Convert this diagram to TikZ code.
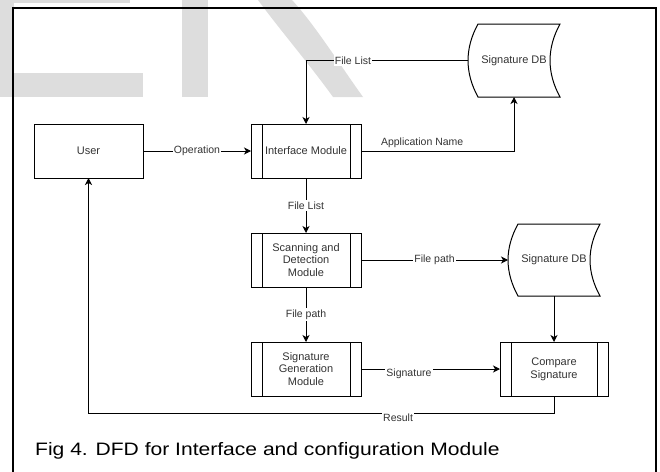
\documentclass[tikz,border=0pt]{standalone}
\usepackage{fontspec}
\setmainfont{Liberation Sans}
\usepackage{graphicx}
\usetikzlibrary{arrows.meta,calc}
\definecolor{wm}{RGB}{221,221,221}
\definecolor{txt}{RGB}{51,51,51}
\begin{document}
\begin{tikzpicture}[x=1pt,y=-1pt,
  box/.style={draw=black, line width=1pt, minimum width=110pt, minimum height=54pt,
    inner sep=0pt, outer sep=0pt, align=center, text=txt,
    font=\fontsize{11}{12.6}\selectfont},
  dbnode/.style={minimum width=92pt, minimum height=73pt, inner sep=0pt, outer sep=0pt,
    align=center, text=txt, font=\fontsize{11}{12.6}\selectfont},
  plain/.style={draw=black, line width=1pt},
  conn/.style={draw=black, line width=1pt, -{Stealth[length=7pt,width=7pt,inset=2pt]}},
  elabel/.style={fill=white, inner sep=1.2pt, text=txt, font=\fontsize{10.5}{12}\selectfont},
  tlabel/.style={inner sep=1pt, text=txt, font=\fontsize{10.5}{12}\selectfont}
]
\clip (0,0) rectangle (660,471);
% watermark
\fill[wm] (0,0) rectangle (14,97);
\fill[wm] (14,0) rectangle (130,3);
\fill[wm] (14,73) rectangle (143,97);
\fill[wm] (182,0) rectangle (208,97);
\fill[wm] (258,0) .. controls (280,30) and (310,65) .. (333,97) -- (363,97)
  .. controls (340,65) and (315,25) .. (292,0) -- cycle;
% frame
\draw[line width=1.8pt, black] (13,480) -- (13,8) -- (656,8) -- (656,480);

% nodes
\node[box, minimum width=109pt] (user) at (88.5,151) {User};
\node[box] (iface) at (306,151) {Interface Module};
\node[box] (scan) at (306,260) {Scanning and\\Detection\\Module};
\node[box] (sgen) at (306,369) {Signature\\Generation\\Module};
\node[box, minimum width=108pt] (cmp) at (554,369) {Compare\\Signature};
\node[dbnode] (db1) at (514,60.5) {Signature DB};
\node[dbnode, minimum height=72pt] (db2) at (554,260) {Signature DB};

\foreach \n in {iface,scan,sgen,cmp} {
  \draw[plain] ([xshift=11pt]\n.north west) -- ([xshift=11pt]\n.south west);
  \draw[plain] ([xshift=-11pt]\n.north east) -- ([xshift=-11pt]\n.south east);
}
\foreach \n in {db1,db2} {
  \draw[plain] ($(\n.north west)+(10,0)$) -- (\n.north east)
    .. controls ($(\n.north east)+(-13.3,24.3)$) and ($(\n.south east)+(-13.3,-24.3)$) .. (\n.south east)
    -- ($(\n.south west)+(10,0)$)
    .. controls ($(\n.south west)+(-3.3,-24.3)$) and ($(\n.north west)+(-3.3,24.3)$) .. cycle;
}

% connectors
\draw[conn] (user) -- node[elabel]{Operation} (iface);
\draw[conn] (db1.west) -| node[elabel, pos=0.355]{File List} (iface.north);
\draw[conn] (iface.east) -| node[tlabel, pos=0.2, yshift=8pt]{Application Name} (db1.south);
\draw[conn] (iface) -- node[elabel]{File List} (scan);
\draw[conn] (scan) -- node[elabel]{File path} (db2);
\draw[conn] (scan) -- node[elabel]{File path} (sgen);
\draw[conn] (sgen) -- node[elabel, pos=0.345, yshift=-5pt]{Signature} (cmp);
\draw[conn] (db2) -- (cmp);
\draw[conn] (cmp.south) -- ++(0,17) -| node[elabel, pos=0.1675, yshift=-5pt]{Result} (user.south);

% caption
\node[anchor=base west, inner sep=0pt] (cap) at (35,455)
  {\scalebox{1.17}[1]{\fontsize{18}{20}\selectfont Fig 4. DFD for Interface and configuration Module}};
\end{tikzpicture}
\end{document}
